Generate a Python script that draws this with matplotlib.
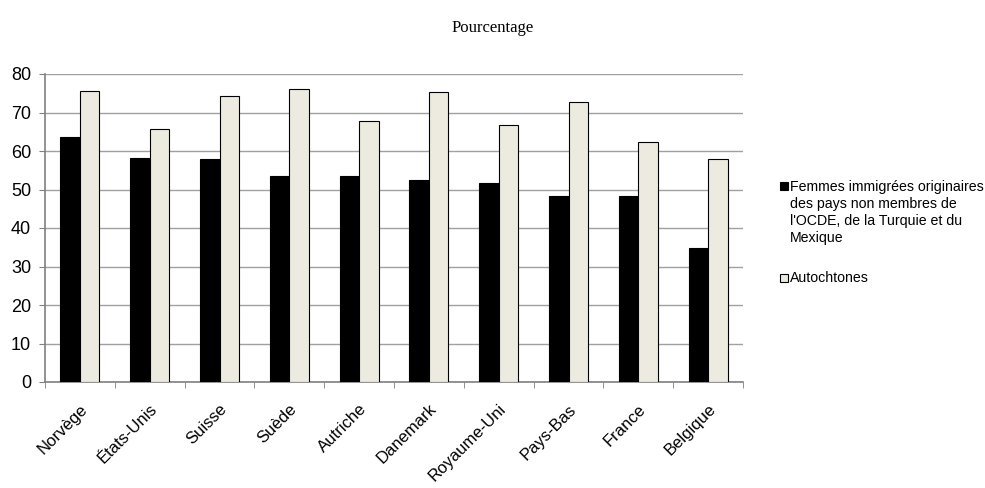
import numpy as np
import matplotlib.pyplot as plt
from matplotlib.patches import Rectangle

pays = ['Norvège', 'États-Unis', 'Suisse', 'Suède', 'Autriche', 'Danemark',
        'Royaume-Uni', 'Pays-Bas', 'France', 'Belgique']
femmes_immigrees = [63.7, 58.3, 57.8, 53.6, 53.4, 52.5, 51.7, 48.4, 48.2, 34.7]
autochtones = [75.6, 65.6, 74.4, 76.0, 67.7, 75.4, 66.8, 72.8, 62.3, 57.9]

label_femmes = ("Femmes immigrées originaires\ndes pays non membres de\n"
                "l'OCDE, de la Turquie et du\nMexique")
label_autoch = "Autochtones"

plt.rcParams['font.family'] = ['Liberation Sans', 'DejaVu Sans']

W, H = 985, 488
fig = plt.figure(figsize=(W / 100, H / 100), dpi=100)
ax = fig.add_axes([45 / W, 1 - 382 / H, 698 / W, 308 / H])

x = np.arange(len(pays))
w = 0.28
ax.bar(x - w / 2, femmes_immigrees, w, color='black', edgecolor='black', linewidth=0.8, zorder=3)
ax.bar(x + w / 2, autochtones, w, color='#EDEBE0', edgecolor='black', linewidth=0.8, zorder=3)

ax.set_xlim(-0.5, len(pays) - 0.5)
ax.set_ylim(0, 80)
ax.set_yticks(range(0, 81, 10))
ax.tick_params(axis='y', labelsize=13, length=4, color='#808080', pad=6)
ax.yaxis.grid(True, color='#A0A0A0', linewidth=1, zorder=0)

ax.set_xticks(x)
ax.set_xticklabels(pays, rotation=45, ha='right', rotation_mode='anchor', fontsize=12)
ax.tick_params(axis='x', length=0, pad=14)
ax.set_xticks(np.arange(len(pays) + 1) - 0.5, minor=True)
ax.tick_params(axis='x', which='minor', length=4, color='#808080')

for s in ['top', 'right']:
    ax.spines[s].set_visible(False)
for s in ['left', 'bottom']:
    ax.spines[s].set_color('#808080')
    ax.spines[s].set_linewidth(1.2)

fig.text(0.5, 1 - 28 / H, 'Pourcentage', ha='center', va='center',
         fontsize=12, family='Liberation Serif')

# legend drawn by hand so the square sits on the first text line
def fy(py):
    return 1 - py / H

for label, color, ytop in [(label_femmes, 'black', 182.5), (label_autoch, '#EDEBE0', 274)]:
    fig.patches.append(Rectangle((780 / W, fy(ytop + 8)), 8 / W, 8 / H, facecolor=color,
                                 edgecolor='black', linewidth=0.8, transform=fig.transFigure))
    fig.text(790 / W, fy(ytop - 3), label, ha='left', va='top', fontsize=10.2,
             linespacing=1.3)

fig.savefig('out.png', dpi=100)
